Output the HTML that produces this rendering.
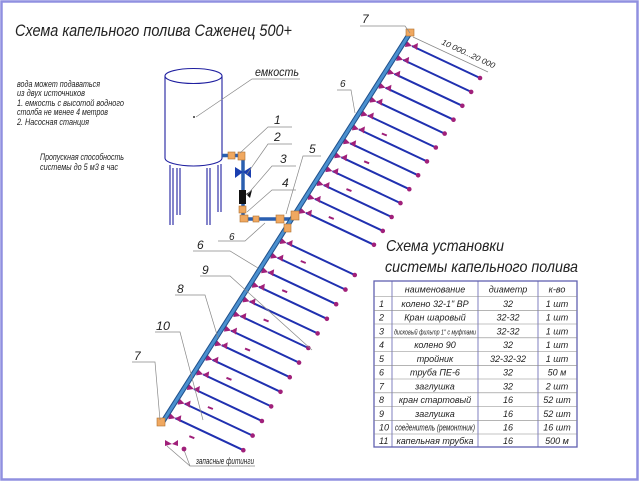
<!DOCTYPE html>
<html><head><meta charset="utf-8">
<style>
html,body{margin:0;padding:0;background:#fff;}
svg{display:block;}
text{font-family:"Liberation Sans Narrow","Liberation Sans",sans-serif;font-style:italic;fill:#222;}
</style></head>
<body>
<svg id="s" width="640" height="483" viewBox="0 0 640 483" xmlns="http://www.w3.org/2000/svg">
<rect x="0" y="0" width="640" height="483" fill="#fff"/>
<rect x="1.5" y="1.5" width="636" height="478" fill="none" stroke="#9090e0" stroke-width="2.5"/>

<text x="15" y="36" font-size="17" textLength="277" lengthAdjust="spacingAndGlyphs">Схема капельного полива Саженец 500+</text>
<text x="386" y="251" font-size="16" textLength="118" lengthAdjust="spacingAndGlyphs">Схема установки</text>
<text x="385" y="272" font-size="16" textLength="193" lengthAdjust="spacingAndGlyphs">системы капельного полива</text>

<g font-size="9">
<text x="17" y="87" textLength="83" lengthAdjust="spacingAndGlyphs">вода может подаваться</text>
<text x="17" y="96" textLength="68" lengthAdjust="spacingAndGlyphs">из двух источников</text>
<text x="17" y="106" textLength="107" lengthAdjust="spacingAndGlyphs">1. емкость с высотой водного</text>
<text x="17" y="115" textLength="91" lengthAdjust="spacingAndGlyphs">столба не менее 4 метров</text>
<text x="17" y="125" textLength="72" lengthAdjust="spacingAndGlyphs">2. Насосная станция</text>
<text x="40" y="160" textLength="84" lengthAdjust="spacingAndGlyphs">Пропускная способность</text>
<text x="40" y="170" textLength="78" lengthAdjust="spacingAndGlyphs">системы до 5 м3 в час</text>
</g>

<g stroke="#2020a0" stroke-width="1.1" fill="#fff">
<line x1="170" y1="165" x2="170" y2="225"/><line x1="173" y1="168" x2="173" y2="225"/>
<line x1="177" y1="168" x2="177" y2="215"/><line x1="180" y1="168" x2="180" y2="215"/>
<line x1="207" y1="168" x2="207" y2="225"/><line x1="210" y1="168" x2="210" y2="225"/>
<line x1="218" y1="165" x2="218" y2="212"/><line x1="221" y1="164" x2="221" y2="212"/>
<path d="M165,76 L165,158 A28.5,8 0 0 0 222,158 L222,76"/>
<ellipse cx="193.5" cy="76" rx="28.5" ry="7.5"/>
</g>
<circle cx="194" cy="117" r="1" fill="#333"/>

<g stroke-linecap="butt">
<line x1="222" y1="155.5" x2="243" y2="155.5" stroke="#2a5fb0" stroke-width="3.5"/>
<line x1="243" y1="155" x2="243" y2="219" stroke="#2a5fb0" stroke-width="3.5"/>
<line x1="243" y1="219" x2="292" y2="219" stroke="#2a5fb0" stroke-width="3.5"/>
</g>
<rect x="228" y="152" width="7" height="7" fill="#f0a860" stroke="#b07030" stroke-width=".6"/>
<rect x="238" y="152" width="7" height="8" fill="#f0a860" stroke="#b07030" stroke-width=".6"/>
<path d="M235,167 L243,172 L251,167 L251,178 L243,172 L235,178 Z" fill="#1a3fb0"/>
<rect x="239" y="190" width="7" height="14" fill="#111"/>
<path d="M246,194 L252,190 L250,198 Z" fill="#111"/>
<rect x="239" y="206" width="7" height="7" fill="#f0a860" stroke="#b07030" stroke-width=".6"/>
<rect x="240" y="215" width="8" height="7" fill="#f0a860" stroke="#b07030" stroke-width=".6"/>
<rect x="253" y="216" width="6" height="6" fill="#f0a860" stroke="#b07030" stroke-width=".6"/>
<rect x="276" y="215" width="8" height="8" fill="#f0a860" stroke="#b07030" stroke-width=".6"/>

<g id="main"></g>

<g stroke="#888" stroke-width=".7" fill="none">
<polyline points="300,79 252,79 196,117"/>
<polyline points="292,127 268,127 240,153"/>
<polyline points="292,144 268,144 247,174"/>
<polyline points="296,166 272,166 247,195"/>
<polyline points="296,190 272,190 247,212"/>
<polyline points="321,156 303,156 286,214"/>
<polyline points="218,241 245,241 265,223"/>
<polyline points="193,251 230,251 258,268"/>
<polyline points="200,276 230,276 312,350"/>
<polyline points="175,295 205,295 218,338"/>
<polyline points="155,332 180,332 203,420"/>
<polyline points="132,362 155,362 160,420"/>
<polyline points="360,26 405,26 410,33"/>
<polyline points="337,90 351,90 355,113"/>
<polyline points="255,466 190,466 167,446"/>
<line x1="190" y1="466" x2="184" y2="450"/>
<line x1="413" y1="37" x2="488" y2="72"/>
</g>
<g font-size="12">
<text x="255" y="76" textLength="44" lengthAdjust="spacingAndGlyphs">емкость</text>
<text x="274" y="124">1</text><text x="274" y="141">2</text>
<text x="280" y="163">3</text><text x="282" y="187">4</text>
<text x="309" y="153">5</text>
<text x="229" y="240" font-size="10">6</text>
<text x="197" y="249">6</text><text x="202" y="274">9</text>
<text x="177" y="293">8</text>
<text x="156" y="330" textLength="14" lengthAdjust="spacingAndGlyphs">10</text>
<text x="134" y="360">7</text>
<text x="362" y="23">7</text>
<text x="340" y="87" font-size="10">6</text>
<text x="196" y="464" font-size="9" textLength="58" lengthAdjust="spacingAndGlyphs">запасные фитинги</text>
<text x="0" y="0" font-size="8" transform="translate(441,44) rotate(25)" textLength="58" lengthAdjust="spacingAndGlyphs">10 000...20 000</text>
</g>
<path d="M165,440 L172,444 L165,446 Z M178,440 L172,444 L178,446Z" fill="#a0207a"/>
<circle cx="184" cy="449" r="2.4" fill="#a0207a"/>

<g stroke="#6060b0" stroke-width=".8" fill="none">
<rect x="374" y="281" width="203" height="166" stroke-width="1.3"/>
<line x1="392" y1="281" x2="392" y2="447"/>
<line x1="478" y1="281" x2="478" y2="447"/>
<line x1="538" y1="281" x2="538" y2="447"/>
</g>
<g id="tbl" font-size="9"></g>
</svg>
<script>
var NS="http://www.w3.org/2000/svg";
function el(p,t,a,txt){var e=document.createElementNS(NS,t);for(var k in a)e.setAttribute(k,a[k]);if(txt!==undefined)e.textContent=txt;p.appendChild(e);return e;}
var g=document.getElementById('main');
var ys=[];for(var i=0;i<13;i++)ys.push(44+i*13.9);for(var i=0;i<13;i++)ys.push(241+i*14.6);
var px=function(y){return 162+(423-y)*248/390;};
var lg=el(g,'g',{});
var mk="#a0207a";
ys.forEach(function(y,i){
  var x=px(y)+3;
  el(lg,'line',{x1:x+6,y1:y+2,x2:x+74,y2:y+34,stroke:"#2030b0","stroke-width":2});
  el(lg,'path',{d:"M"+x+","+(y-4)+" L"+(x+6)+","+(y+2)+" L"+(x-1)+","+(y+3)+"Z",fill:mk});
  el(lg,'path',{d:"M"+(x+12)+","+(y-1)+" L"+(x+6)+","+(y+2)+" L"+(x+11)+","+(y+6)+"Z",fill:mk});
  el(lg,'circle',{cx:x+74,cy:y+34,r:2.3,fill:mk});
  if(i%2==1 && i>3) el(lg,'line',{x1:x+20,y1:y+20,x2:x+25,y2:y+22,stroke:mk,"stroke-width":2});
});
el(g,'line',{x1:162,y1:423,x2:410,y2:33,stroke:"#1f4f8a","stroke-width":5});
el(g,'line',{x1:162,y1:423,x2:410,y2:33,stroke:"#4a90d0","stroke-width":3});
el(g,'rect',{x:157,y:418,width:8,height:8,fill:"#f0a860",stroke:"#b07030","stroke-width":.6});
el(g,'rect',{x:406,y:29,width:8,height:7,fill:"#f0a860",stroke:"#b07030","stroke-width":.6});
el(g,'rect',{x:291,y:211,width:8,height:9,fill:"#f0a860",stroke:"#b07030","stroke-width":.6});
el(g,'rect',{x:284,y:224,width:7,height:8,fill:"#f0a860",stroke:"#b07030","stroke-width":.6});
var t=document.getElementById('tbl');
var rows=[["","наименование","диаметр","к-во"],["1","колено 32-1\" ВР","32","1 шт"],["2","Кран шаровый","32-32","1 шт"],["3","дисковый фильтр 1\" с муфтами","32-32","1 шт"],["4","колено 90","32","1 шт"],["5","тройник","32-32-32","1 шт"],["6","труба ПЕ-6","32","50 м"],["7","заглушка","32","2 шт"],["8","кран стартовый","16","52 шт"],["9","заглушка","16","52 шт"],["10","соеденитель (ремонтник)","16","16 шт"],["11","капельная трубка","16","500 м"]];
var yy=[281,296.5,310.3,324,337.8,351.5,365.3,379,392.8,406.5,420.3,434,447];
rows.forEach(function(r,i){
  if(i>0) el(t,'line',{x1:374,y1:yy[i],x2:577,y2:yy[i],stroke:"#888","stroke-width":.6});
  var by=(yy[i]+yy[i+1])/2+3.5;
  el(t,'text',{x:379,y:by},r[0]);
  var a=el(t,'text',{x:435,y:by,"text-anchor":"middle"},r[1]);
  if(i==3){a.setAttribute('textLength','82');a.setAttribute('lengthAdjust','spacingAndGlyphs');a.setAttribute('font-size','7.5');}
  if(i==10){a.setAttribute('textLength','80');a.setAttribute('lengthAdjust','spacingAndGlyphs');}
  var b=el(t,'text',{x:508,y:by,"text-anchor":"middle"},r[2]);
  if(i==5){b.setAttribute('textLength','36');b.setAttribute('lengthAdjust','spacingAndGlyphs');}
  el(t,'text',{x:557,y:by,"text-anchor":"middle"},r[3]);
});
</script>
</body></html>
